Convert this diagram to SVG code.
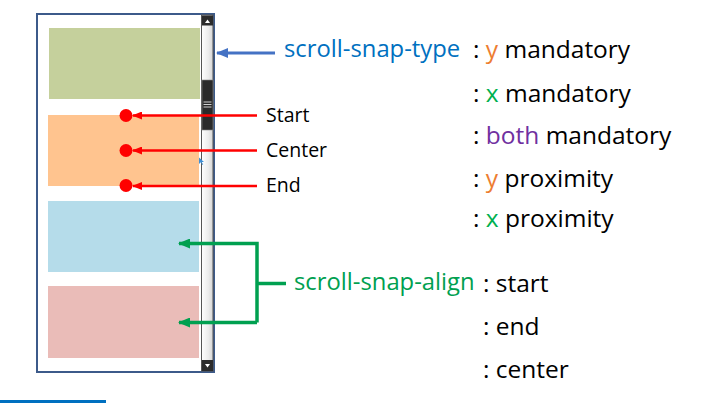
<svg xmlns="http://www.w3.org/2000/svg" width="705" height="403" viewBox="0 0 705 403">
  <style>
    .t { font-family: "Open Sans", "Liberation Sans", sans-serif; fill: #000; }
    .lbl { font-size: 19.5px; }
    .val { font-size: 24.5px; }
    .prop { font-size: 23.8px; }
    .red { stroke: #ff0000; stroke-width: 2.5; fill: none; }
    .grn { stroke: #00a050; stroke-width: 3.5; fill: none; }
    .blu { stroke: #4472c4; stroke-width: 3; fill: none; }
  </style>
  <defs>
    <marker id="ahRed" markerWidth="10" markerHeight="8" refX="9" refY="4" orient="auto" markerUnits="userSpaceOnUse">
      <path d="M0,0 L10,4 L0,8 Z" fill="#ff0000"/>
    </marker>
    <marker id="ahGrn" markerWidth="12" markerHeight="10" refX="11" refY="5" orient="auto" markerUnits="userSpaceOnUse">
      <path d="M0,0 L12,5 L0,10 Z" fill="#00a050"/>
    </marker>
    <marker id="ahBlu" markerWidth="12" markerHeight="10" refX="11" refY="5" orient="auto" markerUnits="userSpaceOnUse">
      <path d="M0,0 L12,5 L0,10 Z" fill="#4472c4"/>
    </marker>
    <linearGradient id="track" x1="0" y1="0" x2="1" y2="0">
      <stop offset="0" stop-color="#ffffff"/>
      <stop offset="0.6" stop-color="#ececec"/>
      <stop offset="1" stop-color="#d4d4d4"/>
    </linearGradient>
  </defs>

  <rect width="705" height="403" fill="#ffffff"/>

  <!-- scroll container with its snap items -->
  <g id="container">
    <rect x="37" y="14" width="177" height="358" fill="#ffffff" stroke="#3c5a8a" stroke-width="2"/>
    <rect x="49" y="28" width="151" height="71" fill="#c5d09c"/>
    <rect x="48" y="115" width="151" height="71" fill="#ffc48f"/>
    <rect x="48" y="201" width="151" height="71" fill="#b5dcea"/>
    <rect x="48" y="286" width="151" height="72" fill="#eabcb8"/>
  </g>

  <!-- vertical scrollbar -->
  <g id="scrollbar">
    <rect x="201.5" y="15" width="11.5" height="356" fill="url(#track)" stroke="#555" stroke-width="1"/>
    <rect x="202" y="15.5" width="11" height="10" fill="#2b2b2b"/>
    <path d="M205,23 L207.5,19.5 L210,23 Z" fill="#ffffff"/>
    <rect x="202" y="80" width="11" height="50" fill="#2a2a2a" stroke="#888" stroke-width="0.6"/>
    <path d="M203.5,102 H211.5 M203.5,104.5 H211.5 M203.5,107 H211.5" stroke="#cfcfcf" stroke-width="1"/>
    <rect x="202" y="360" width="11" height="11" fill="#2b2b2b"/>
    <path d="M205,364 L210,364 L207.5,367.5 Z" fill="#ffffff"/>
  </g>

  <!-- pointer -->
  <g id="pointer">
    <path d="M199,157.5 L199,164 L200.8,162.3 L202.6,165 L203.2,164.5 L201.6,162 L204,162 Z" fill="#3d8fd6"/>
  </g>

  <!-- snap point markers -->
  <g id="snap-points">
    <circle cx="126" cy="115.5" r="6.5" fill="#ff0000"/>
    <circle cx="126" cy="150.5" r="6.5" fill="#ff0000"/>
    <circle cx="126" cy="185.5" r="6.5" fill="#ff0000"/>
  </g>

  <!-- connectors -->
  <g id="connectors">
    <line class="blu" x1="275" y1="53" x2="217" y2="53" marker-end="url(#ahBlu)"/>
    <line class="red" x1="257" y1="115.5" x2="133" y2="115.5" marker-end="url(#ahRed)"/>
    <line class="red" x1="257" y1="150.5" x2="133" y2="150.5" marker-end="url(#ahRed)"/>
    <line class="red" x1="257" y1="186" x2="133" y2="186" marker-end="url(#ahRed)"/>
    <path class="grn" d="M286,283.5 H257"/>
    <path class="grn" d="M257,322.5 V243.5 H179" marker-end="url(#ahGrn)"/>
    <path class="grn" d="M257,322.5 H179" marker-end="url(#ahGrn)"/>
  </g>

  <!-- labels -->
  <g id="label-start"><text class="t lbl" x="266" y="122">Start</text></g>
  <g id="label-center"><text class="t lbl" x="266" y="157">Center</text></g>
  <g id="label-end"><text class="t lbl" x="266" y="192">End</text></g>

  <g id="snap-type">
    <text class="t prop" x="284" y="57" style="fill:#0070c0">scroll-snap-type</text>
    <text class="t val" x="473" y="58">: <tspan style="fill:#ed7d31">y</tspan> mandatory</text>
    <text class="t val" x="473" y="101.5">: <tspan style="fill:#00b050">x</tspan> mandatory</text>
    <text class="t val" x="473" y="143.5">: <tspan style="fill:#7030a0">both</tspan> mandatory</text>
    <text class="t val" x="473" y="186.5">: <tspan style="fill:#ed7d31">y</tspan> proximity</text>
    <text class="t val" x="473" y="227">: <tspan style="fill:#00b050">x</tspan> proximity</text>
  </g>

  <g id="snap-align">
    <text class="t prop" x="294" y="290" style="fill:#00a050">scroll-snap-align</text>
    <text class="t val" x="483" y="291.5">: start</text>
    <text class="t val" x="483" y="335">: end</text>
    <text class="t val" x="483" y="378">: center</text>
  </g>

  <!-- underline at bottom edge -->
  <rect x="0" y="400" width="106" height="3" fill="#0070c0"/>
</svg>
